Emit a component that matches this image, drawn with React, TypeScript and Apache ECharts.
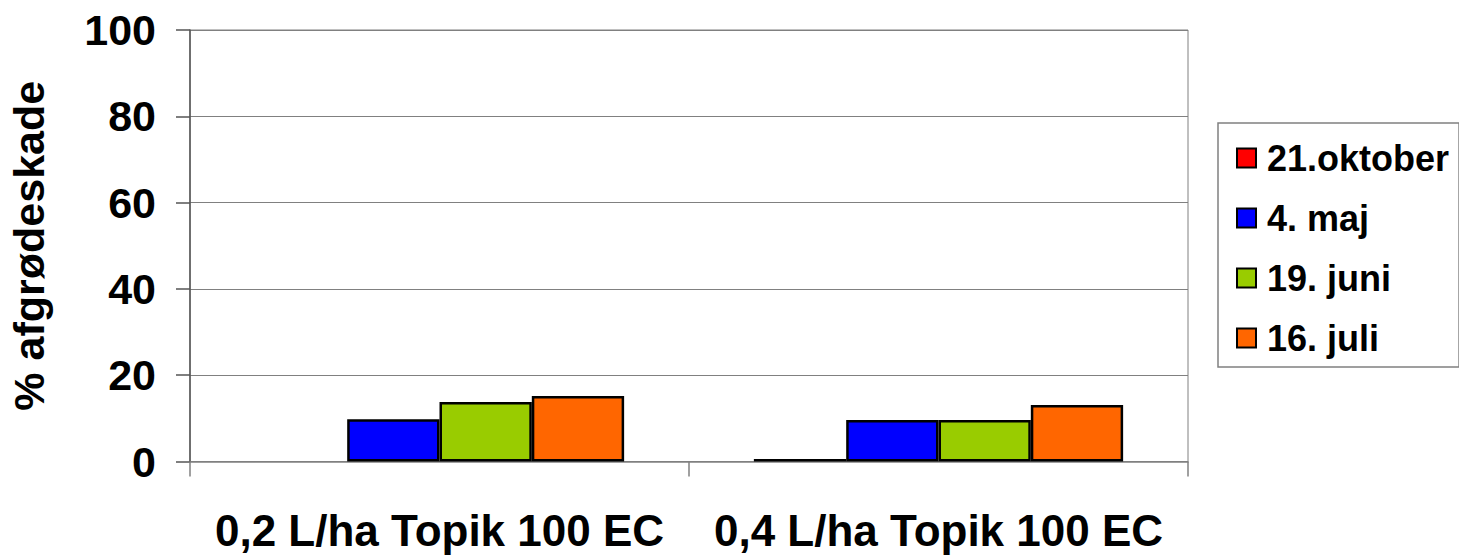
import React, { useEffect, useRef } from "react";
import * as echarts from "echarts";

const categories = ["0,2 L/ha Topik 100 EC", "0,4 L/ha Topik 100 EC"];
const seriesNames = ["21.oktober", "4. maj", "19. juni", "16. juli"];
const oktober = [0, 0.6];
const maj = [9.8, 9.6];
const juni = [13.8, 9.6];
const juli = [15.2, 13.1];
const colors = ["#FF0000", "#0000FF", "#99CC00", "#FF6600"];
const yTicks = [0, 20, 40, 60, 80, 100];

export default function App() {
  const ref = useRef<HTMLDivElement>(null);
  useEffect(() => {
    if (!ref.current) return;
    const chart = echarts.init(ref.current, undefined, { renderer: "svg" });
    const values = [oktober, maj, juni, juli];
    const font = "'Liberation Sans', Arial, sans-serif";
    chart.setOption({
      animation: false,
      backgroundColor: "#ffffff",
      textStyle: { fontFamily: font },
      grid: {
        left: 190,
        right: 271,
        top: 30,
        bottom: 95.5,
        show: true,
        borderColor: "#808080",
        borderWidth: 1,
        containLabel: false,
        outerBoundsMode: "none",
      },
      legend: {
        orient: "vertical",
        left: 1218,
        top: 123,
        padding: [17, 10, 11, 18],
        itemWidth: 19,
        itemHeight: 19,
        itemGap: 24,
        borderColor: "#808080",
        borderWidth: 1.5,
        icon: "rect",
        itemStyle: { borderColor: "#000", borderWidth: 2 },
        textStyle: {
          fontSize: 36,
          lineHeight: 36,
          fontWeight: "bold",
          color: "#000",
          fontFamily: font,
          padding: [0, 0, 0, 6],
        },
        data: seriesNames,
      },
      xAxis: {
        type: "category",
        data: categories,
        axisLine: { show: true, lineStyle: { color: "#808080", width: 1.5 } },
        axisTick: { show: true, length: 15, lineStyle: { color: "#808080", width: 1.5 } },
        axisLabel: {
          interval: 0,
          hideOverlap: false,
          fontSize: 44,
          fontWeight: "bold",
          color: "#000",
          margin: 47,
          fontFamily: font,
        },
      },
      yAxis: {
        type: "value",
        min: 0,
        max: 100,
        interval: 20,
        name: "% afgrødeskade",
        nameLocation: "middle",
        nameRotate: 90,
        nameGap: 140,
        nameTextStyle: { fontSize: 43, fontWeight: "bold", color: "#000", fontFamily: font },
        axisLine: { show: true, lineStyle: { color: "#555", width: 1.5 } },
        axisTick: { show: true, length: 14, lineStyle: { color: "#555", width: 1.5 } },
        axisLabel: {
          fontSize: 43,
          fontWeight: "bold",
          color: "#000",
          margin: 34,
          fontFamily: font,
          formatter: (v: number) => (yTicks.includes(v) ? String(v) : ""),
        },
        splitLine: { show: true, lineStyle: { color: "#808080", width: 1 } },
      },
      series: seriesNames.map((name, i) => ({
        name,
        type: "bar",
        data: values[i].map((v) => ({
          value: v,
          itemStyle: v === 0 ? { borderWidth: 0 } : undefined,
        })),
        barGap: "0%",
        barCategoryGap: "26%",
        itemStyle: { color: colors[i], borderColor: "#000", borderWidth: 2.5 },
      })),
    });
    return () => chart.dispose();
  }, []);
  return (
    <div
      ref={ref}
      style={{ position: "fixed", left: 0, top: 0, width: 1459, height: 557 }}
    />
  );
}
